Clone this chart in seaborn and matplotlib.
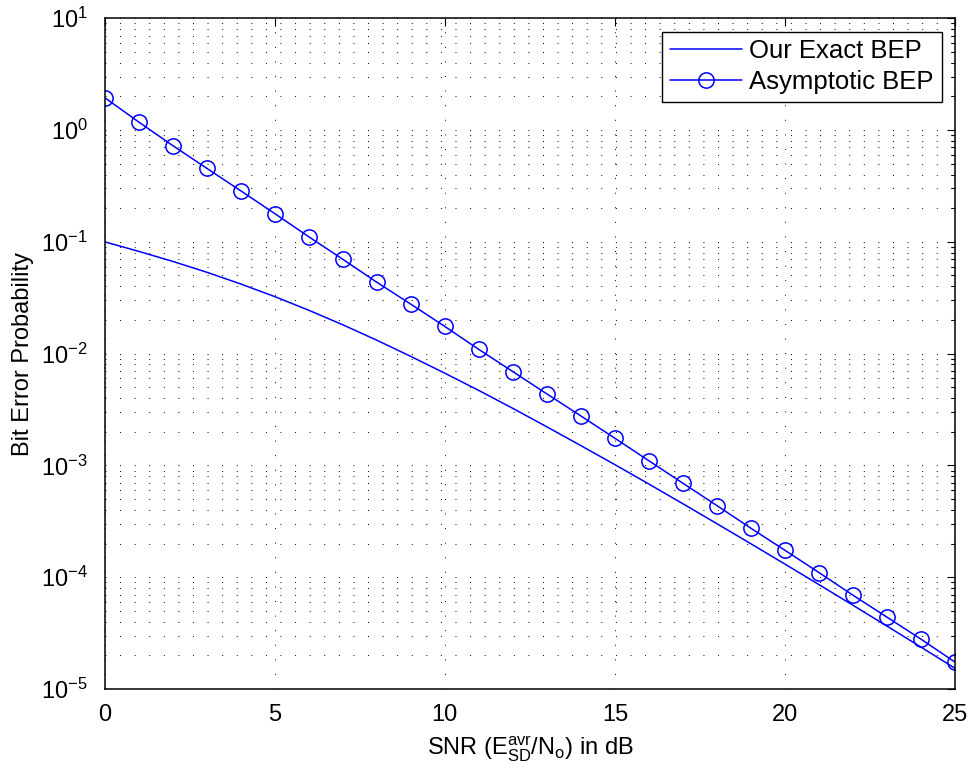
import matplotlib
matplotlib.use("Agg")
import matplotlib.pyplot as plt
import matplotlib.ticker as mticker
import numpy as np
import pandas as pd
import seaborn as sns

# ---- data ----
snr_db = list(range(0, 26))
exact_bep = [0.1, 0.08222, 0.06683, 0.05346, 0.04198, 0.03236, 0.02443,
             0.01811, 0.01318, 0.00944, 0.00668, 0.00468, 0.003236,
             0.002213, 0.001503, 0.001016, 0.000681, 0.000454, 0.000301,
             0.000199, 0.000131, 8.59e-5, 5.61e-5, 3.65e-5, 2.37e-5, 1.53e-5]
asym_bep = [1.95, 1.18, 0.726, 0.455, 0.286, 0.179, 0.111, 0.0698, 0.0435,
            0.0277, 0.0175, 0.0109, 0.0069, 0.00436, 0.00277, 0.00175,
            0.0011, 0.000693, 0.000437, 0.000274, 0.000174, 0.00011,
            6.9e-5, 4.39e-5, 2.79e-5, 1.74e-5]
series_names = ["Our Exact BEP", "Asymptotic BEP"]
x_ticks = [0, 5, 10, 15, 20, 25]

df = pd.DataFrame({"snr": snr_db, "exact": exact_bep, "asym": asym_bep})

sns.set_style("white")
plt.rcParams["font.family"] = ["Liberation Sans", "DejaVu Sans"]
plt.rcParams["mathtext.fontset"] = "custom"
plt.rcParams["mathtext.rm"] = "Liberation Sans"
plt.rcParams["mathtext.it"] = "Liberation Sans"
plt.rcParams["mathtext.bf"] = "Liberation Sans:bold"
for key in ["text.color", "axes.labelcolor", "xtick.color", "ytick.color"]:
    plt.rcParams[key] = "black"

FS = 17

fig = plt.figure(figsize=(9.73, 7.80), dpi=100)
ax = fig.add_axes([0.1076, 0.1167, 0.8739, 0.8599])
ax.set_yscale("log")

sns.lineplot(data=df, x="snr", y="exact", ax=ax, color="#0000ff", lw=1.1,
             label=series_names[0])
sns.lineplot(data=df, x="snr", y="asym", ax=ax, color="#0000ff", lw=1.1,
             marker="o", markersize=11, markerfacecolor="none",
             markeredgecolor="#0000ff", markeredgewidth=1.1,
             label=series_names[1])

ax.set_xlim(0, 25)
ax.set_ylim(1e-5, 1e1)
ax.set_xticks(x_ticks)
ax.xaxis.set_minor_locator(mticker.NullLocator())
ax.yaxis.set_major_locator(mticker.LogLocator(base=10, numticks=10))
ax.yaxis.set_minor_locator(mticker.LogLocator(base=10, subs=np.arange(2, 10), numticks=100))
ax.yaxis.set_minor_formatter(mticker.NullFormatter())

dot = (0, (1, 14))
ax.grid(True, which="major", axis="both", color="k", lw=0.7, linestyle=dot)
ax.grid(True, which="minor", axis="y", color="k", lw=0.7, linestyle=dot)

ax.tick_params(which="both", direction="in", top=True, right=True,
               color="k", labelcolor="k", width=0.8)
ax.tick_params(which="major", length=6, labelsize=FS)
ax.tick_params(which="minor", length=3)
ax.tick_params(axis="x", pad=11)
ax.tick_params(axis="y", pad=12)

for s in ax.spines.values():
    s.set_color("k")
    s.set_linewidth(1.1)

ax.set_xlabel(r"SNR ($\mathregular{E_{SD}^{avr}}$/N$\mathregular{_o}$) in dB",
              fontsize=FS, labelpad=6, color="k")
ax.set_ylabel("Bit Error Probability", fontsize=FS, labelpad=5, color="k")

leg = ax.legend(loc="upper right", bbox_to_anchor=(0.9843, 0.980),
                borderaxespad=0, fontsize=18.5, frameon=True, fancybox=False,
                framealpha=1, edgecolor="k", handlelength=2.8,
                handletextpad=0.3, labelspacing=0.27, borderpad=0.3)
leg.get_frame().set_linewidth(1.0)
for t in leg.get_texts():
    t.set_color("k")

fig.savefig("out.png", dpi=100, facecolor="white")
